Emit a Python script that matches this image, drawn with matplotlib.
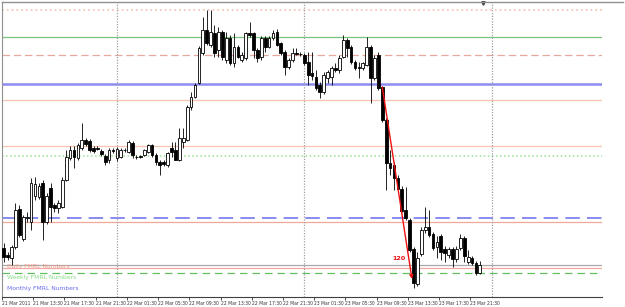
"""EUR/USD M30 chart, 21-23 Mar 2011, with FMRL level lines (MT4 style)."""
import matplotlib
matplotlib.use("Agg")
import matplotlib.pyplot as plt
import numpy as np
from matplotlib.lines import Line2D

# 30-minute bars from 21 Mar 09:30, prices in pips above the chart floor
OPEN = [30.6, 26.3, 24.4, 31.3, 55.0, 36.3, 49.4, 46.9, 63.1, 62.5,
        71.3, 46.9, 68.1, 57.5, 55.6, 56.3, 73.1, 86.9, 91.9, 86.9,
        93.1, 98.1, 97.5, 93.1, 93.1, 91.3, 88.1, 85.6, 91.9, 86.9,
        87.5, 91.9, 90.6, 96.3, 87.5, 88.1, 88.8, 90.6, 95.0, 88.8,
        84.4, 84.4, 82.5, 93.1, 91.9, 85.6, 96.9, 98.1, 118.8, 125.0,
        133.8, 152.5, 166.9, 157.5, 165.0, 154.4, 165.6, 148.1, 161.9, 146.3,
        156.3, 148.1, 149.4, 165.0, 165.0, 154.4, 150.0, 161.9, 156.3, 161.9,
        165.6, 158.8, 153.1, 143.8, 148.1, 152.5, 151.9, 151.3, 146.9, 140.0,
        137.5, 132.5, 128.1, 136.9, 137.5, 143.1, 141.9, 150.0, 160.6, 156.3,
        146.9, 143.8, 143.1, 145.0, 156.3, 136.9, 151.3, 131.3, 110.6, 83.8,
        82.5, 74.4, 67.5, 54.4, 48.1, 30.0, 8.1, 26.9, 41.9, 43.8,
        39.4, 31.3, 38.1, 30.0, 26.3, 30.0, 23.8, 30.6, 36.9, 21.9,
        24.4, 21.3, 15.0]
HIGH = [33.8, 28.1, 32.5, 58.8, 57.5, 51.3, 53.1, 74.4, 75.0, 71.3,
        73.1, 65.0, 71.3, 58.8, 60.6, 75.0, 91.9, 94.4, 94.4, 96.3,
        108.8, 99.4, 98.8, 94.4, 94.4, 92.5, 89.4, 93.1, 93.1, 93.8,
        93.1, 93.1, 98.1, 97.5, 88.8, 88.8, 92.5, 95.6, 95.6, 90.0,
        85.6, 85.6, 90.6, 96.9, 96.9, 105.6, 105.6, 120.0, 128.1, 133.8,
        156.9, 175.0, 179.4, 179.4, 170.0, 168.8, 166.9, 165.6, 163.8, 165.0,
        157.5, 153.1, 165.6, 171.9, 165.6, 155.6, 163.1, 163.1, 163.1, 166.9,
        167.5, 159.4, 154.4, 149.4, 155.6, 155.6, 153.1, 152.5, 153.1, 153.1,
        141.9, 134.4, 140.6, 141.9, 144.4, 146.3, 151.3, 163.8, 161.9, 157.5,
        148.1, 146.9, 146.9, 162.5, 157.5, 151.3, 153.1, 131.9, 111.9, 91.9,
        84.4, 76.3, 69.4, 68.8, 49.4, 31.3, 28.1, 43.8, 56.3, 54.4,
        40.6, 38.1, 39.4, 31.9, 31.3, 31.3, 31.9, 39.4, 38.1, 29.4,
        25.6, 22.5, 22.5]
LOW = [21.9, 23.1, 20.0, 30.0, 37.5, 35.0, 46.9, 41.9, 60.6, 61.3,
       35.6, 45.6, 46.9, 53.1, 52.5, 55.6, 72.5, 85.6, 80.6, 85.6,
       91.9, 94.4, 90.6, 90.0, 91.9, 88.1, 82.5, 83.8, 90.0, 85.0,
       86.9, 90.6, 90.0, 86.9, 86.3, 86.9, 88.1, 90.0, 87.5, 82.5,
       76.3, 81.9, 81.3, 87.5, 85.6, 85.0, 93.1, 97.5, 116.9, 124.4,
       133.1, 151.3, 157.5, 156.3, 150.0, 150.0, 148.1, 146.3, 145.0, 143.8,
       149.4, 146.9, 148.1, 162.5, 149.4, 146.9, 148.1, 153.1, 155.6, 160.6,
       156.9, 151.3, 138.8, 142.5, 146.9, 151.3, 150.6, 145.0, 132.5, 135.6,
       129.4, 124.4, 126.9, 133.8, 132.5, 140.6, 140.0, 149.4, 150.0, 145.6,
       141.9, 136.9, 141.9, 144.4, 121.3, 135.6, 129.4, 109.4, 66.9, 76.3,
       66.9, 65.0, 53.1, 48.1, 28.1, 5.6, 6.9, 25.6, 40.0, 37.5,
       29.4, 24.4, 23.1, 21.9, 24.4, 18.8, 21.9, 29.4, 21.9, 20.6,
       20.0, 13.8, 14.4]
CLOSE = [25.0, 25.0, 31.3, 54.4, 38.8, 50.0, 50.0, 71.3, 70.6, 69.4,
         46.9, 63.1, 56.3, 55.6, 58.8, 73.1, 87.5, 91.9, 87.5, 95.0,
         98.1, 95.6, 91.9, 91.3, 92.8, 89.4, 84.4, 91.9, 91.3, 92.5,
         91.9, 91.6, 96.9, 88.8, 87.3, 87.5, 91.9, 95.0, 88.8, 84.4,
         82.5, 83.1, 90.0, 90.6, 85.6, 99.4, 99.4, 118.8, 125.0, 132.5,
         155.6, 166.9, 158.8, 165.6, 152.5, 165.6, 150.0, 161.9, 146.3, 156.3,
         150.0, 151.3, 165.0, 163.8, 154.4, 149.4, 161.9, 156.3, 161.9, 165.0,
         157.5, 152.5, 143.8, 148.1, 152.5, 152.2, 151.6, 146.3, 138.8, 138.1,
         130.6, 128.1, 138.8, 140.6, 143.1, 141.9, 149.4, 160.6, 155.6, 146.9,
         143.1, 143.4, 146.3, 156.3, 136.9, 149.4, 130.6, 110.6, 83.8, 80.6,
         74.4, 67.5, 53.8, 49.4, 29.4, 8.8, 24.4, 41.9, 43.8, 38.8,
         30.6, 34.4, 28.1, 27.5, 30.0, 23.8, 30.0, 36.9, 25.6, 25.0,
         21.3, 15.0, 20.0]

TICK_LABELS = ["21 Mar 2011", "21 Mar 13:30", "21 Mar 17:30", "21 Mar 21:30",
               "22 Mar 01:30", "22 Mar 05:30", "22 Mar 09:30", "22 Mar 13:30",
               "22 Mar 17:30", "22 Mar 21:30", "23 Mar 01:30", "23 Mar 05:30",
               "23 Mar 09:30", "23 Mar 13:30", "23 Mar 17:30", "23 Mar 21:30"]
BARS_PER_LABEL = 8           # 4 hours of M30 bars
MIDNIGHT_BARS = [29, 77, 125]  # 22, 23, 24 Mar 00:00

# FMRL levels (pips above floor)
LEVELS = [179.4, 162.5, 151.3, 133.1, 123.1, 94.4, 88.4, 49.2, 47.1, 20.0, 17.9, 14.8]
LEVEL_STYLES = [
    dict(color="#f8c8b8", linestyle=":", linewidth=1.3),
    dict(color="#7cc47c", linestyle="-", linewidth=0.9),
    dict(color="#e8a8a0", linestyle=(0, (6, 3)), linewidth=0.9),
    dict(color="#8c8cf0", linestyle="-", linewidth=1.8),
    dict(color="#f8c4b0", linestyle="-", linewidth=0.9),
    dict(color="#f8c4b0", linestyle="-", linewidth=0.9),
    dict(color="#98e098", linestyle=":", linewidth=1.1),
    dict(color="#8080f0", linestyle=(0, (8, 4)), linewidth=1.3),
    dict(color="#f0a898", linestyle="-", linewidth=0.9),
    dict(color="#a8a8a8", linestyle="-", linewidth=0.9),
    dict(color="#f0a8a0", linestyle="-", linewidth=0.9),
    dict(color="#60c060", linestyle=(0, (6, 4)), linewidth=0.9),
]

LEGEND = [("Daily FMRL Numbers", "#f09a88"),
          ("Weekly FMRL Numbers", "#88dd88"),
          ("Monthly FMRL Numbers", "#6a6af0")]

MOVE_FROM = (97.0, 131.3)
MOVE_TO = (104.6, 11.3)
MOVE_PIPS = 120


def draw_candles(ax, o, h, l, c, width=0.7):
    o, h, l, c = map(np.asarray, (o, h, l, c))
    x = np.arange(len(o))
    up = c >= o
    lo = np.minimum(o, c)
    span = np.maximum(o, c) - lo
    ax.vlines(x, l, h, color="black", linewidth=0.6, zorder=3)
    ax.bar(x[up], span[up], width, bottom=lo[up], facecolor="white",
           edgecolor="black", linewidth=0.6, zorder=4)
    ax.bar(x[~up], span[~up], width, bottom=lo[~up], facecolor="black",
           edgecolor="black", linewidth=0.6, zorder=4)


def main():
    W, H = 625, 307
    fig = plt.figure(figsize=(W / 100, H / 100), dpi=100)
    fig.patch.set_facecolor("white")
    ax = fig.add_axes([2 / W, 10 / H, 600 / W, 295 / H])
    ax.set_facecolor("white")

    ax.set_xlim(-0.13, 153.3)
    ax.set_ylim(0, 184.4)

    for lvl, st in zip(LEVELS, LEVEL_STYLES):
        ax.axhline(lvl, zorder=1, **st)
    for b in MIDNIGHT_BARS:
        ax.axvline(b, color="#a0a0a0", linestyle=(0, (1, 1.2)), linewidth=0.9, zorder=1)

    draw_candles(ax, OPEN, HIGH, LOW, CLOSE)

    ax.annotate("", xy=MOVE_TO, xytext=MOVE_FROM,
                arrowprops=dict(arrowstyle="-|>", color="#ee1111", lw=1.0,
                                mutation_scale=5, shrinkA=0, shrinkB=0),
                zorder=6)
    ax.text(103.0, 23.8, str(MOVE_PIPS), color="#ee1111", fontsize=4.6,
            fontweight="bold", ha="right", va="center", zorder=6)

    for i, (txt, col) in enumerate(LEGEND):
        ax.text(0.0085, 0.103 - i * 0.037, txt, transform=ax.transAxes,
                color=col, fontsize=4.3, ha="left", va="center", zorder=7)

    ticks = np.arange(len(TICK_LABELS)) * BARS_PER_LABEL - 0.45
    ax.set_xticks(ticks)
    ax.set_xticklabels(TICK_LABELS, ha="left", fontsize=3.25, color="#333333")
    ax.tick_params(axis="x", length=2.2, width=0.6, pad=0.6, color="#333333")
    ax.set_yticks([])

    for side in ("top", "right"):
        ax.spines[side].set_visible(False)
    ax.spines["left"].set_color("#909090")
    ax.spines["left"].set_linewidth(0.8)
    ax.spines["bottom"].set_color("#404040")
    ax.spines["bottom"].set_linewidth(0.8)

    # top border runs through the price-scale area too
    fig.add_artist(Line2D([2 / W, 623 / W], [(H - 2) / H, (H - 2) / H],
                          color="#909090", linewidth=1.0))
    # chart-shift marker
    ax.plot([122.9], [0.995], marker="v", markersize=2.5, color="#404040",
            transform=ax.get_xaxis_transform(), clip_on=False, zorder=8)

    fig.savefig("out.png", dpi=100, facecolor="white")
    plt.close(fig)


if __name__ == "__main__":
    main()
